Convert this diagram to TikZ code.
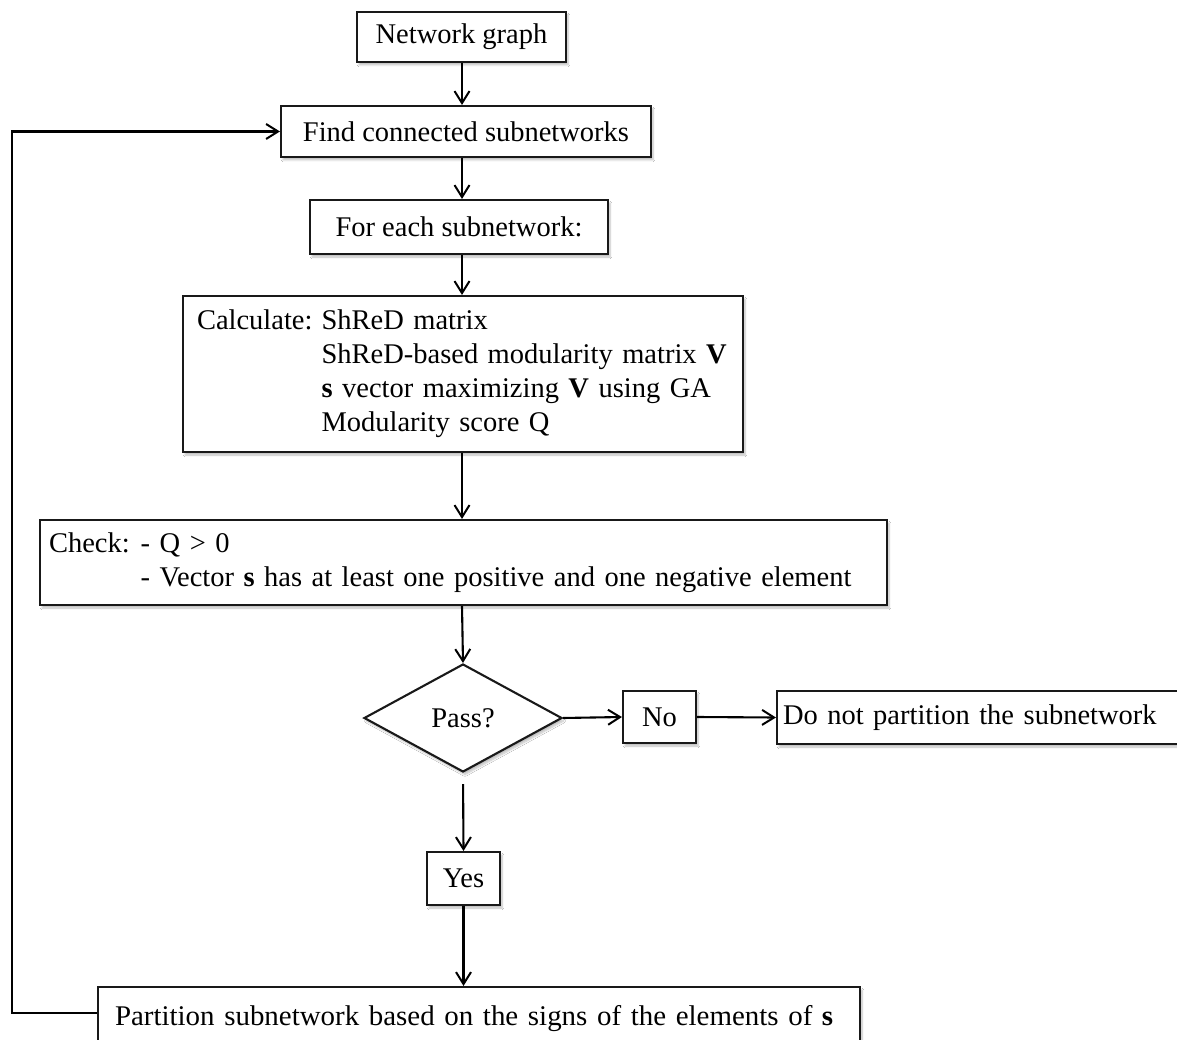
\documentclass[tikz,border=0pt]{standalone}
\usepackage{fontspec}
\setmainfont{Liberation Serif}
\usetikzlibrary{arrows.meta,shapes.geometric,shadows.blur}
\begin{document}
\begin{tikzpicture}[x=1pt,y=-1pt,
  font=\fontsize{28.5}{34}\selectfont,
  box/.style={draw=black!90,line width=2.1pt,fill=white,inner sep=0pt,
    blur shadow={shadow xshift=2pt,shadow yshift=-3pt,shadow blur steps=6,shadow opacity=25}},
  decision/.style={box,diamond,aspect=1.83},
  arr/.style={line width=2.1pt,-{Straight Barb[length=12pt,width=15pt,line width=2pt]}}]
  \useasboundingbox (0,0) rectangle (1177,1040);
  \clip (0,0) rectangle (1177,1040);
  \fill[white] (0,0) rectangle (1177,1040);

  % main column
  \node[box,minimum width=209pt,minimum height=50pt] (net) at (461.5,37) {Network graph};
  \node[box,minimum width=370pt,minimum height=51pt] (find) at (466,131.5) {Find connected subnetworks};
  \node[box,minimum width=298pt,minimum height=54pt] (each) at (459,227) {For each subnetwork:};
  \node[box,minimum width=560pt,minimum height=156pt,align=left,text width=532pt] (calc) at (463,374)
    {\begin{tabular}{@{}l@{\hspace{9pt}}l@{}}
      Calculate: & ShReD matrix\\
                 & ShReD-based modularity matrix \textbf{V}\\
                 & \textbf{s} vector maximizing \textbf{V} using GA\\
                 & Modularity score Q
     \end{tabular}};
  \node[box,minimum width=847pt,minimum height=85pt,align=left,text width=829pt] (check) at (463.5,562.5)
    {\begin{tabular}{@{}l@{\hspace{11pt}}l@{}}
      Check: & - Q {>} 0\\
             & - Vector \textbf{s} has at least one positive and one negative element
     \end{tabular}};
  \node[decision,minimum width=198pt,minimum height=108pt] (pass) at (463,718) {Pass?};
  \node[box,minimum width=73pt,minimum height=52pt] (no) at (659.5,717) {No};
  \node[box,minimum width=423pt,minimum height=53pt,align=left,text width=411pt] (keep) at (988.5,717.5)
    {Do not partition the subnetwork};
  \node[box,minimum width=762pt,minimum height=63pt,align=left,text width=728pt] (part) at (479,1018.5)
    {\raisebox{4pt}{\scalebox{1.015}[1]{Partition subnetwork based on the signs of the elements of \textbf{s}}}};
  \node[box,minimum width=73pt,minimum height=53pt] (yes) at (463.5,878.5) {Yes};

  % connectors
  \draw[arr] (net.south -| 462,0) -- (find.north -| 462,0);
  \draw[arr] (find.south -| 462,0) -- (each.north -| 462,0);
  \draw[arr] (each.south -| 462,0) -- (calc.north -| 462,0);
  \draw[arr] (calc.south -| 462,0) -- (check.north -| 462,0);
  \draw[arr] (check.south -| 462,0) -- (pass.north);
  \draw[arr] (pass.east) -- (no.west);
  \draw[arr] (no.east) -- (keep.west);
  \draw[arr,shorten <=11pt] (pass.south) -- (yes.north);
  \draw[arr] (yes.south) -- (part.north -| yes.south);

  % feedback loop
  \coordinate (lp) at (12,1013);
  \draw[arr] (lp -| part.west) -- (lp) |- (find.west);
\end{tikzpicture}
\end{document}
